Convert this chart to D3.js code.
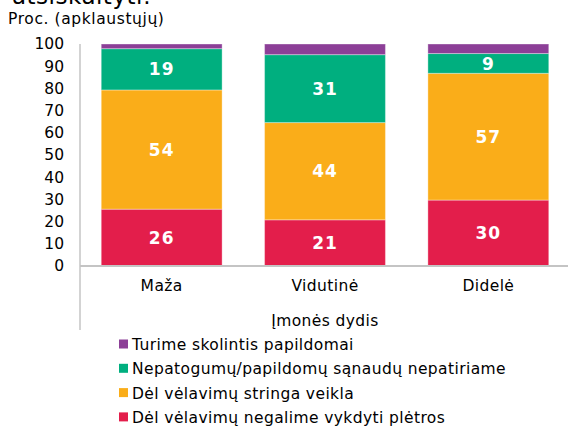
<!DOCTYPE html>
<html><head><meta charset="utf-8">
<script src="https://cdn.jsdelivr.net/npm/d3@7"></script>
<style>body{margin:0;background:#fff}svg{display:block;font-family:"DejaVu Sans",Verdana,sans-serif}</style>
</head><body>
<svg id="c" width="568" height="428"></svg>
<script>
const categories = ["Maža", "Vidutinė", "Didelė"];
const seriesNames = ["Dėl vėlavimų negalime vykdyti plėtros", "Dėl vėlavimų stringa veikla", "Nepatogumų/papildomų sąnaudų nepatiriame", "Turime skolintis papildomai"];
const redVals = [25.6, 20.8, 29.7];
const orangeVals = [53.7, 43.8, 57.1];
const greenVals = [18.6, 30.6, 8.9];
const purpleVals = [2.1, 4.8, 4.3];
const yTicks = [0, 10, 20, 30, 40, 50, 60, 70, 80, 90, 100];
const colors = ["#E31E4B", "#FAAD19", "#00AF7F", "#8C3F97"];
const labelShown = [true, true, true, false];

const series = [redVals, orangeVals, greenVals, purpleVals];
const svg = d3.select("#c");
const x = d3.scaleBand().domain(categories).range([80, 570]).paddingInner(0.26).paddingOuter(0.13);
const y = d3.scaleLinear().domain([0, 100]).range([266, 44]);
const LS = 0.4;

// title remnant (cut off at the top, as in the reference)
svg.append("text").attr("x", 12).attr("y", 4).attr("font-size", 23).attr("letter-spacing", 0.5).attr("fill", "#000").text("atsiskaityti:");
svg.append("text").attr("x", 8).attr("y", 24).attr("font-size", 15.5).attr("letter-spacing", 0.6).attr("fill", "#000").text("Proc. (apklaustųjų)");

// bars
const data = categories.map((c, i) => {
  const o = {cat: c};
  series.forEach((s, k) => o["s" + k] = s[i]);
  return o;
});
const stack = d3.stack().keys(series.map((s, k) => "s" + k))(data);
stack.forEach((layer, k) => {
  const g = svg.append("g");
  g.selectAll("rect").data(layer).join("rect")
    .attr("x", d => x(d.data.cat))
    .attr("width", x.bandwidth())
    .attr("y", d => y(d[1]))
    .attr("height", d => y(d[0]) - y(d[1]))
    .attr("fill", colors[k])
    .attr("stroke", "#fff").attr("stroke-opacity", 0.35).attr("stroke-width", 1);
  if (labelShown[k]) {
    g.selectAll("text").data(layer).join("text")
      .attr("x", d => x(d.data.cat) + x.bandwidth() / 2)
      .attr("y", d => (y(d[0]) + y(d[1])) / 2)
      .attr("dy", "0.36em")
      .attr("text-anchor", "middle")
      .attr("font-size", 17).attr("font-weight", "bold").attr("letter-spacing", 1).attr("fill", "#fff")
      .text(d => Math.round(d[1] - d[0]));
  }
});

// axes
const yAxis = d3.axisLeft(y).tickValues(yTicks).tickSize(0).tickPadding(16);
const ya = svg.append("g").attr("transform", "translate(80,0)").call(yAxis);
ya.select(".domain").remove();
ya.selectAll("text").attr("font-size", 15.5).attr("fill", "#000").attr("font-family", "DejaVu Sans, Verdana, sans-serif");
svg.append("line").attr("x1", 80).attr("x2", 80).attr("y1", 44).attr("y2", 330).attr("stroke", "#c4c4c4").attr("stroke-width", 1.5);
svg.append("line").attr("x1", 80).attr("x2", 568).attr("y1", 266).attr("y2", 266).attr("stroke", "#c4c4c4").attr("stroke-width", 2);

const xAxis = d3.axisBottom(x).tickSize(0).tickPadding(14);
const xa = svg.append("g").attr("transform", "translate(0,266)").call(xAxis);
xa.select(".domain").remove();
xa.selectAll("text").attr("font-size", 15.5).attr("letter-spacing", LS).attr("fill", "#000").attr("font-family", "DejaVu Sans, Verdana, sans-serif");

svg.append("text").attr("x", 325).attr("y", 326).attr("text-anchor", "middle").attr("font-size", 15.5).attr("letter-spacing", LS).attr("fill", "#000").text("Įmonės dydis");

// legend (reverse order)
const legendOrder = [3, 2, 1, 0];
const lg = svg.append("g");
legendOrder.forEach((k, i) => {
  const cy = 344.5 + i * 24.3;
  lg.append("rect").attr("x", 119).attr("y", cy - 5).attr("width", 9).attr("height", 9).attr("fill", colors[k]);
  lg.append("text").attr("x", 132).attr("y", cy).attr("dy", "0.35em").attr("font-size", 15.5).attr("letter-spacing", LS).attr("fill", "#000").text(seriesNames[k]);
});
</script>
</body></html>
